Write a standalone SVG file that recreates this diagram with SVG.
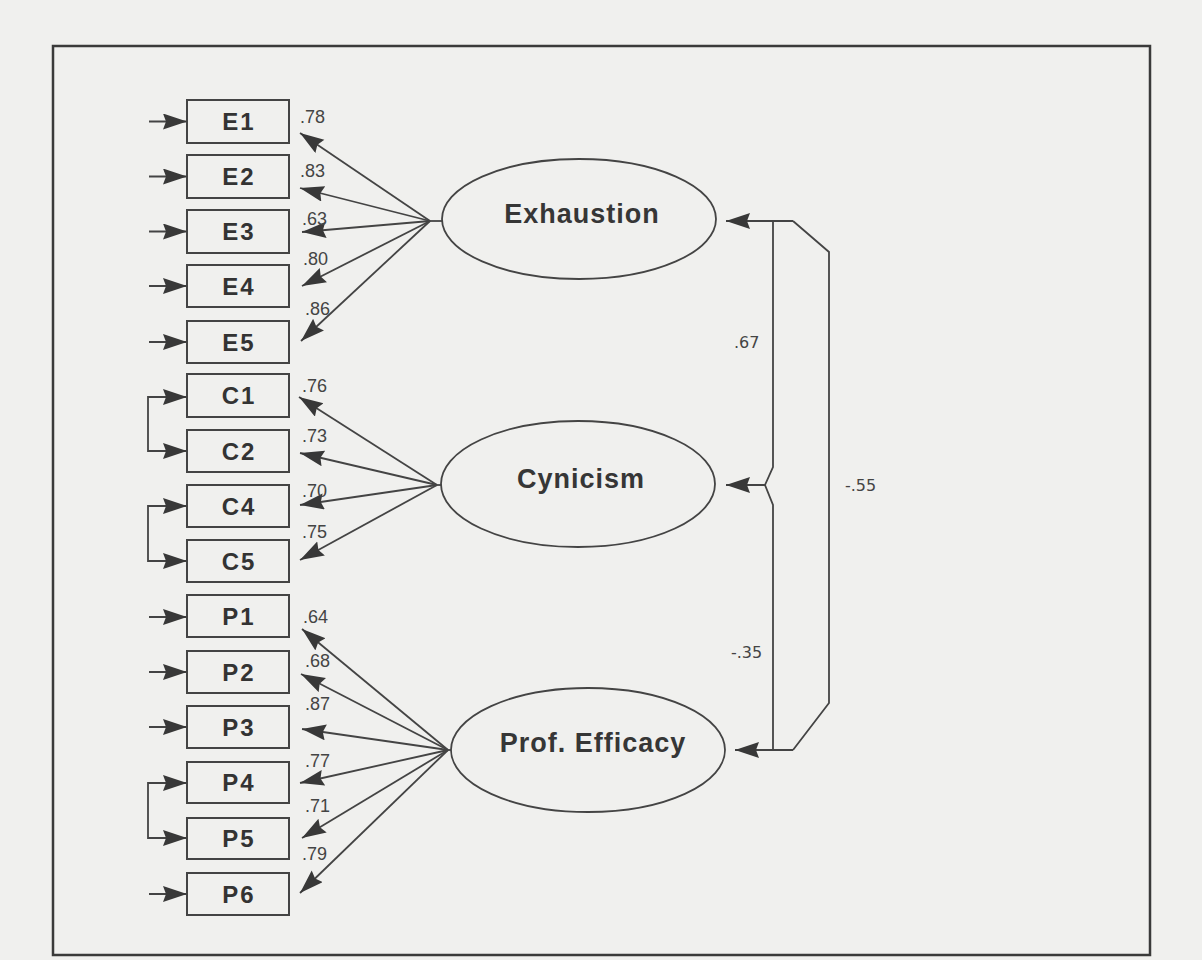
<svg xmlns="http://www.w3.org/2000/svg" width="1202" height="960" viewBox="0 0 1202 960">
<style>
.frame{fill:none;stroke:#3a3a3a;stroke-width:2.5}
.box{fill:none;stroke:#444;stroke-width:2}
.lat{fill:none;stroke:#444;stroke-width:1.8}
.bl{font-family:"Liberation Sans",Arial,sans-serif;font-weight:bold;font-size:24px;fill:#333;text-anchor:middle;letter-spacing:2px}
.ll{font-family:"Liberation Sans",Arial,sans-serif;font-weight:bold;font-size:27px;fill:#363636;text-anchor:middle;letter-spacing:1px}
.num{font-family:"Liberation Sans",Arial,sans-serif;font-size:18px;fill:#444}
.cor{font-family:"DejaVu Sans",Verdana,sans-serif;font-size:16px;fill:#444}
.ln{fill:none;stroke:#444;stroke-width:1.8}
.ar{fill:none;stroke:#444;stroke-width:1.8;marker-end:url(#ah)}
.cv{fill:none;stroke:#444;stroke-width:1.8;marker-start:url(#ah);marker-end:url(#ah)}
</style>
<defs>
<marker id="ah" markerUnits="userSpaceOnUse" markerWidth="26" markerHeight="18" refX="24" refY="8" orient="auto-start-reverse">
<path d="M0,0 L24,8 L0,16 L3,8 z" fill="#383838"/>
</marker>
</defs>
<rect x="0" y="0" width="1202" height="960" fill="#f0f0ee"/>
<rect class="frame" x="53" y="46" width="1097" height="909"/>

<g id="E1"><rect class="box" x="187" y="100" width="102" height="43"/><text class="bl" x="239" y="130">E1</text></g>
<g id="E2"><rect class="box" x="187" y="155" width="102" height="43"/><text class="bl" x="239" y="185">E2</text></g>
<g id="E3"><rect class="box" x="187" y="210" width="102" height="43"/><text class="bl" x="239" y="240">E3</text></g>
<g id="E4"><rect class="box" x="187" y="265" width="102" height="42"/><text class="bl" x="239" y="295">E4</text></g>
<g id="E5"><rect class="box" x="187" y="321" width="102" height="42"/><text class="bl" x="239" y="351">E5</text></g>
<g id="C1"><rect class="box" x="187" y="374" width="102" height="43"/><text class="bl" x="239" y="404">C1</text></g>
<g id="C2"><rect class="box" x="187" y="430" width="102" height="42"/><text class="bl" x="239" y="460">C2</text></g>
<g id="C4"><rect class="box" x="187" y="485" width="102" height="42"/><text class="bl" x="239" y="515">C4</text></g>
<g id="C5"><rect class="box" x="187" y="540" width="102" height="42"/><text class="bl" x="239" y="570">C5</text></g>
<g id="P1"><rect class="box" x="187" y="595" width="102" height="42"/><text class="bl" x="239" y="625">P1</text></g>
<g id="P2"><rect class="box" x="187" y="651" width="102" height="42"/><text class="bl" x="239" y="681">P2</text></g>
<g id="P3"><rect class="box" x="187" y="706" width="102" height="42"/><text class="bl" x="239" y="736">P3</text></g>
<g id="P4"><rect class="box" x="187" y="762" width="102" height="41"/><text class="bl" x="239" y="791">P4</text></g>
<g id="P5"><rect class="box" x="187" y="818" width="102" height="41"/><text class="bl" x="239" y="847">P5</text></g>
<g id="P6"><rect class="box" x="187" y="873" width="102" height="42"/><text class="bl" x="239" y="903">P6</text></g>

<g id="Exhaustion"><ellipse class="lat" cx="579" cy="219" rx="137" ry="60"/><text class="ll" x="582" y="223">Exhaustion</text></g>
<g id="Cynicism"><ellipse class="lat" cx="578" cy="484" rx="137" ry="63"/><text class="ll" x="581" y="488">Cynicism</text></g>
<g id="ProfEfficacy"><ellipse class="lat" cx="588" cy="750" rx="137" ry="62"/><text class="ll" x="593" y="752">Prof. Efficacy</text></g>

<g id="connectors">
<path class="ar" d="M149,121.5H187"/>
<path class="ar" d="M149,176.5H187"/>
<path class="ar" d="M149,231.5H187"/>
<path class="ar" d="M149,286H187"/>
<path class="ar" d="M149,342H187"/>
<path class="ar" d="M149,617H187"/>
<path class="ar" d="M149,672H187"/>
<path class="ar" d="M149,727H187"/>
<path class="ar" d="M149,894H187"/>
<path class="cv" d="M187,397H148V451H187"/>
<path class="cv" d="M187,506H148V561H187"/>
<path class="cv" d="M187,783H148V838H187"/>
<path class="ln" d="M430,221H442"/>
<path class="ar" d="M430,221L300,133"/>
<path class="ar" d="M430,221L300,188"/>
<path class="ar" d="M430,221L302,232"/>
<path class="ar" d="M430,221L302,286"/>
<path class="ar" d="M430,221L301,341"/>
<path class="ln" d="M437,485H442"/>
<path class="ar" d="M437,485L299,397"/>
<path class="ar" d="M437,485L300,453"/>
<path class="ar" d="M437,485L300,505"/>
<path class="ar" d="M437,485L300,560"/>
<path class="ln" d="M448,750H451"/>
<path class="ar" d="M448,750L302,629"/>
<path class="ar" d="M448,750L301,674"/>
<path class="ar" d="M448,750L302,729"/>
<path class="ar" d="M448,750L300,783"/>
<path class="ar" d="M448,750L302,838"/>
<path class="ar" d="M448,750L300,893"/>
<path class="ar" d="M793,221H726"/>
<path class="ar" d="M765,485H726"/>
<path class="ar" d="M793,750H735"/>
<path class="ln" d="M773,221V467L765,485L773,505V750"/>
<path class="ln" d="M793,221L829,252V703L793,750"/>
</g>

<g id="labels">
<text class="num" x="300" y="123">.78</text>
<text class="num" x="300" y="177">.83</text>
<text class="num" x="302" y="225">.63</text>
<text class="num" x="303" y="265">.80</text>
<text class="num" x="305" y="315">.86</text>
<text class="num" x="302" y="392">.76</text>
<text class="num" x="302" y="442">.73</text>
<text class="num" x="302" y="497">.70</text>
<text class="num" x="302" y="538">.75</text>
<text class="num" x="303" y="623">.64</text>
<text class="num" x="305" y="667">.68</text>
<text class="num" x="305" y="710">.87</text>
<text class="num" x="305" y="767">.77</text>
<text class="num" x="305" y="812">.71</text>
<text class="num" x="302" y="860">.79</text>
<text class="cor" x="734" y="348">.67</text>
<text class="cor" x="845" y="491">-.55</text>
<text class="cor" x="731" y="658">-.35</text>
</g>
</svg>
